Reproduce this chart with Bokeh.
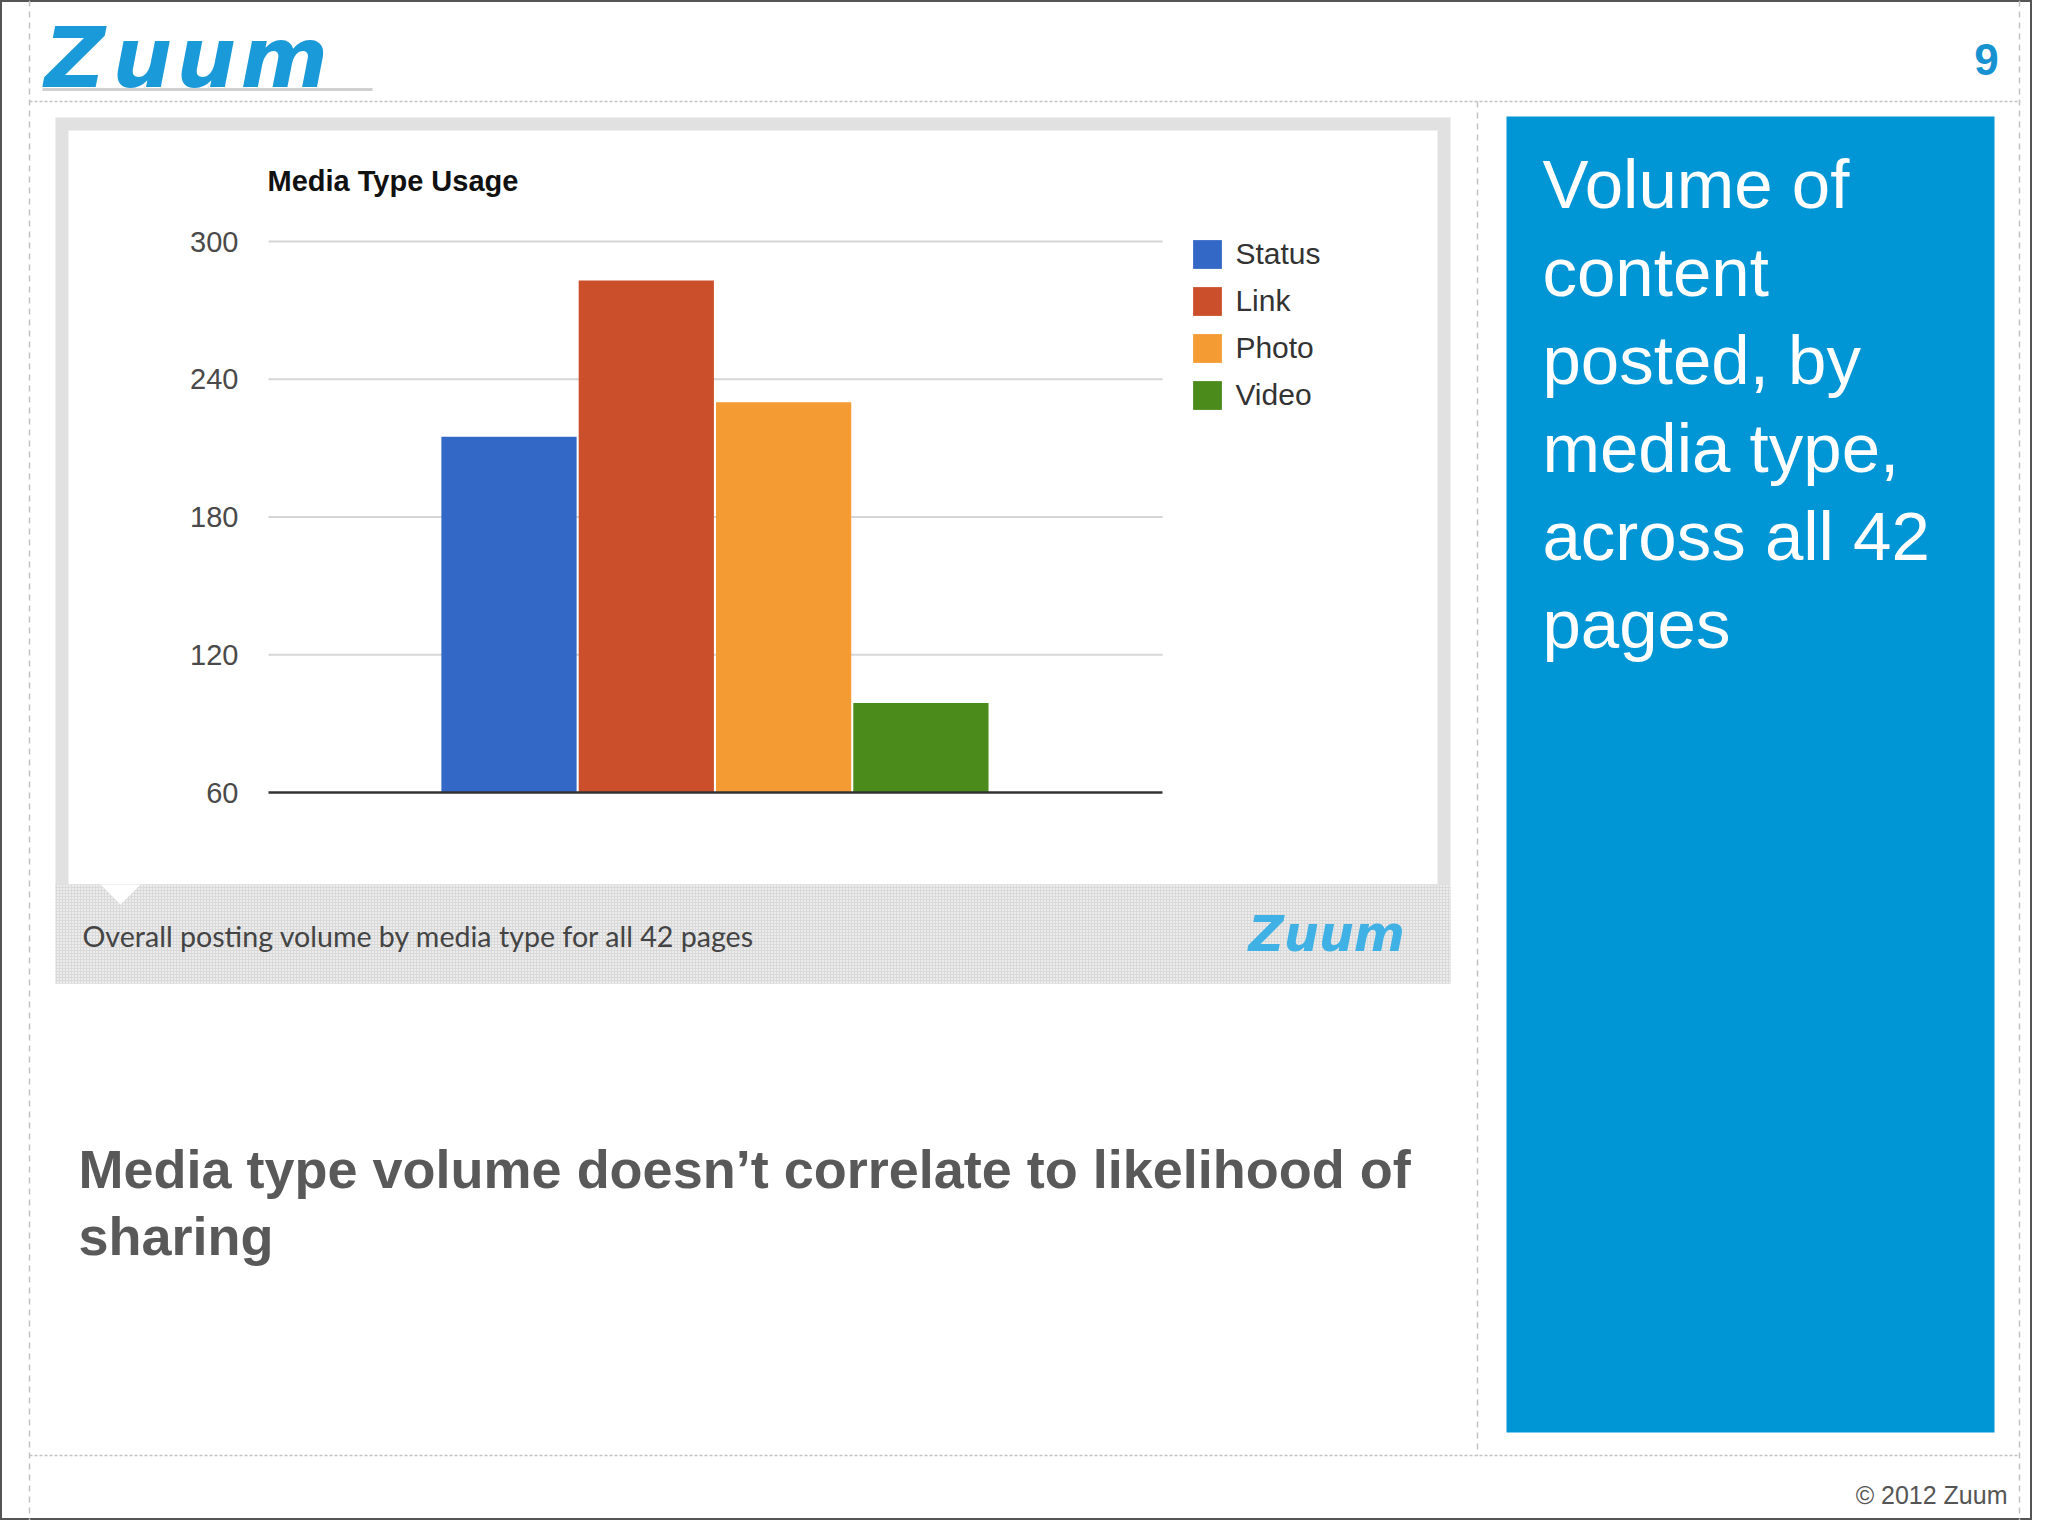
from bokeh.plotting import figure
from bokeh.models import Range1d, LinearAxis, FixedTicker, ColumnDataSource
from bokeh.core.properties import value
from bokeh.embed import file_html
from bokeh.resources import INLINE

# ---------------- data ----------------
series = ["Status", "Link", "Photo", "Video"]
volumes = [215, 283, 230, 99]
bar_colors = ["#3468c6", "#cc4f2b", "#f49b34", "#4a8b1b"]
y_ticks = [60, 120, 180, 240, 300]
chart_title = "Media Type Usage"
caption = "Overall posting volume by media type for all 42 pages"
side_lines = ["Volume of", "content", "posted, by", "media type,", "across all 42", "pages"]
takeaway_lines = ["Media type volume doesn\u2019t correlate to likelihood of", "sharing"]
footer_text = "\u00a9 2012 Zuum"
page_number = "9"
logo_letters = ["Z", "u", "u", "m"]

# ---------------- layout (page pixel coordinates) ----------------
W, H = 2032, 1520
OFF = 0
PX0, PX1 = 268, 1162          # plot area horizontal extent
PY_TOP, PY_BOT = 241, 792     # page y of top tick and baseline
BAR0_CENTER, BAR_PITCH = 508.5, 137.3

p = figure(width=W, height=H,
           x_range=Range1d(OFF, OFF + W), y_range=Range1d(OFF + H, OFF),
           x_axis_type=None, y_axis_type=None,
           toolbar_location=None, output_backend="svg",
           min_border=0, outline_line_color="#555555", outline_line_width=3)
p.background_fill_color = "white"
p.border_fill_color = "white"

ymin, ymax = y_ticks[0], y_ticks[-1]
ppu = (PY_BOT - PY_TOP) / (ymax - ymin)
p.extra_y_ranges = {"counts": Range1d(ymin - (OFF + H - PY_BOT) / ppu,
                                      ymax + (PY_TOP - OFF) / ppu)}
p.extra_x_ranges = {"slot": Range1d((OFF - BAR0_CENTER) / BAR_PITCH,
                                    (OFF + W - BAR0_CENTER) / BAR_PITCH)}

# ---------------- slide decorations ----------------
dash_col = "#c2c2c2"
p.segment(x0=[29, 29], x1=[2019, 2019], y0=[101, 1455], y1=[101, 1455],
          line_color=dash_col, line_width=1.5, line_dash="3 2")
p.segment(x0=[29, 2019, 1477], x1=[29, 2019, 1477], y0=[OFF, OFF, 101], y1=[OFF + H, OFF + H, 1455],
          line_color=dash_col, line_width=1.5, line_dash="6 5")

# top logo
p.segment(x0=[42], x1=[372], y0=[89], y1=[89], line_color="#d0d0d0", line_width=3)
p.text(x=[44, 112, 176, 240], y=[57] * 4, text=logo_letters,
       text_font=value("DejaVu Sans"), text_font_style="bold italic",
       text_font_size="84px", text_color="#1a9ad8", text_baseline="middle")
p.text(x=[1986], y=[59], text=[page_number], text_font=value("Liberation Sans"),
       text_font_style="bold", text_font_size="44px", text_color="#1692d0",
       text_align="center", text_baseline="middle")

# chart panel
p.quad(left=[55], right=[1450], top=[117], bottom=[983], fill_color="#e1e1e1", line_color=None)
p.quad(left=[68], right=[1437], top=[130], bottom=[884], fill_color="white", line_color=None)
p.quad(left=[55], right=[1450], top=[884], bottom=[983], fill_color="#ececec", line_color=None,
       hatch_pattern="+", hatch_color="#d9d9d9", hatch_scale=3, hatch_weight=1)
p.patch(x=[100, 140, 120], y=[884, 884, 904], fill_color="white", line_color=None)
p.text(x=[82], y=[935], text=[caption], text_font=value("Lato"), text_font_size="28.6px",
       text_color="#444444", text_baseline="middle")
p.text(x=[1248], y=[934], text=["Zuum"], text_font=value("DejaVu Sans"),
       text_font_style="bold italic", text_font_size="49px", text_color="#3fb1e5",
       text_baseline="middle")

# blue side box
p.quad(left=[1506], right=[1994], top=[116], bottom=[1432], fill_color="#0096d6", line_color=None)
p.text(x=[1542] * len(side_lines), y=[184 + 88 * i for i in range(len(side_lines))],
       text=side_lines, text_font=value("Liberation Sans"), text_font_size="69px",
       text_color="white", text_baseline="middle")

# takeaway + footer
p.text(x=[78] * len(takeaway_lines), y=[1168 + 67 * i for i in range(len(takeaway_lines))],
       text=takeaway_lines, text_font=value("Liberation Sans"), text_font_style="bold",
       text_font_size="54px", text_color="#595959", text_baseline="middle")
p.text(x=[2007], y=[1494], text=[footer_text], text_font=value("Liberation Sans"),
       text_font_size="25px", text_color="#555555", text_align="right",
       text_baseline="middle")

# ---------------- the chart ----------------
p.text(x=[267], y=[180], text=[chart_title], text_font=value("Liberation Sans"),
       text_font_style="bold", text_font_size="29px", text_color="#111111",
       text_baseline="middle")

p.segment(x0=PX0, x1=PX1, y0=y_ticks[1:], y1=y_ticks[1:], y_range_name="counts",
          line_color="#d6d6d6", line_width=2)

src = ColumnDataSource(dict(slot=list(range(len(series))), series=series,
                            volume=volumes, color=bar_colors))
p.vbar(x="slot", top="volume", bottom=ymin, width=0.985, fill_color="color",
       line_color=None, source=src, x_range_name="slot", y_range_name="counts",
       legend_field="series")

p.segment(x0=PX0, x1=PX1, y0=ymin, y1=ymin, y_range_name="counts",
          line_color="#333333", line_width=2.5)

yaxis = LinearAxis(y_range_name="counts", ticker=FixedTicker(ticks=y_ticks),
                   fixed_location=PX0, bounds=(ymin, ymax),
                   axis_line_color=None, major_tick_line_color=None,
                   minor_tick_line_color=None, major_tick_out=0, major_tick_in=0,
                   major_label_standoff=30,
                   major_label_text_font="Liberation Sans",
                   major_label_text_font_size="29px",
                   major_label_text_color="#4a4a4a")
p.add_layout(yaxis, "left")

leg = p.legend[0]
GLYPH = 36
SP = 11
leg_h = len(series) * GLYPH + (len(series) - 1) * SP
leg_top_page = 240 - GLYPH * 0.1
leg.location = (1193 - GLYPH * 0.1 - OFF, (OFF + H) - (leg_top_page + leg_h))
leg.glyph_width = GLYPH
leg.glyph_height = GLYPH
leg.label_height = GLYPH
leg.spacing = SP
leg.padding = 0
leg.margin = 0
leg.border_line_color = None
leg.background_fill_alpha = 0
leg.label_standoff = 10
leg.label_text_font = "Liberation Sans"
leg.label_text_font_size = "30px"
leg.label_text_color = "#333333"

open("out.html", "w").write(file_html(p, INLINE, "Media Type Usage"))
